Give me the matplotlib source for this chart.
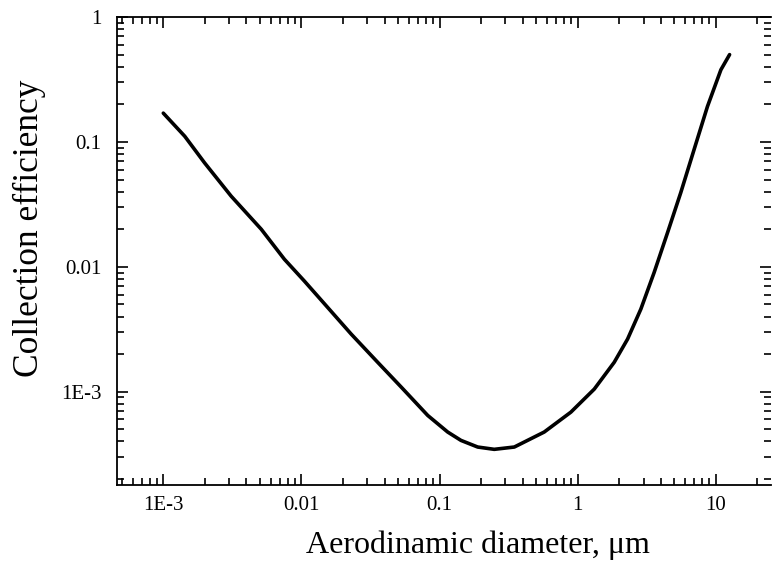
import matplotlib
matplotlib.use("Agg")
import matplotlib.pyplot as plt
from matplotlib.ticker import FixedLocator, LogLocator, NullFormatter

# values
diameter = [1.0e-3, 1.43e-3, 1.99e-3, 3.1e-3, 5.12e-3, 7.53e-3, 0.0105, 0.0155,
            0.0229, 0.0357, 0.0528, 0.0822, 0.1146, 0.143, 0.189, 0.249, 0.348,
            0.573, 0.894, 1.32, 1.84, 2.30, 2.87, 3.58, 4.48, 5.58, 6.97, 8.71,
            10.9, 12.6]
efficiency = [0.170, 0.111, 0.068, 0.0368, 0.0200, 0.0115, 7.7e-3, 4.73e-3,
              2.90e-3, 1.72e-3, 1.09e-3, 6.46e-4, 4.76e-4, 4.08e-4, 3.61e-4,
              3.46e-4, 3.61e-4, 4.76e-4, 6.87e-4, 1.05e-3, 1.72e-3, 2.64e-3,
              4.59e-3, 9.0e-3, 0.0188, 0.0392, 0.0868, 0.192, 0.378, 0.50]

xticks = [1e-3, 0.01, 0.1, 1, 10]
xticklabels = ["1E-3", "0.01", "0.1", "1", "10"]
yticks = [1e-3, 0.01, 0.1, 1]
yticklabels = ["1E-3", "0.01", "0.1", "1"]

plt.rcParams["font.family"] = ["Liberation Serif", "DejaVu Serif"]

fig = plt.figure(figsize=(7.73, 5.67), dpi=100)
ax = fig.add_axes([0.151, 0.145, 0.846, 0.825])

ax.plot(diameter, efficiency, color="black", lw=2.6,
        solid_capstyle="round", solid_joinstyle="round")

ax.set_xscale("log")
ax.set_yscale("log")
ax.set_xlim(4.6e-4, 25)
ax.set_ylim(1.8e-4, 1)

ax.xaxis.set_major_locator(FixedLocator(xticks))
ax.set_xticklabels(xticklabels)
ax.yaxis.set_major_locator(FixedLocator(yticks))
ax.set_yticklabels(yticklabels)
ax.xaxis.set_minor_locator(LogLocator(base=10, subs=range(2, 10), numticks=20))
ax.yaxis.set_minor_locator(LogLocator(base=10, subs=range(2, 10), numticks=20))
ax.xaxis.set_minor_formatter(NullFormatter())
ax.yaxis.set_minor_formatter(NullFormatter())

ax.tick_params(which="both", direction="in", top=True, right=True,
               labelsize=15, width=1.2)
ax.tick_params(axis="y", pad=11)
ax.tick_params(axis="x", pad=8)
ax.tick_params(which="major", length=8)
ax.tick_params(which="minor", length=5)

for side in ["left", "bottom", "top"]:
    ax.spines[side].set_linewidth(1.3)
ax.spines["right"].set_visible(False)

ax.set_xlabel("Aerodinamic diameter, \u03bcm", fontsize=23)
ax.set_ylabel("Collection efficiency", fontsize=25.5)
ax.xaxis.set_label_coords(0.552, -0.098)
ax.yaxis.set_label_coords(-0.108, 0.549)

fig.savefig("out.png", dpi=100)
